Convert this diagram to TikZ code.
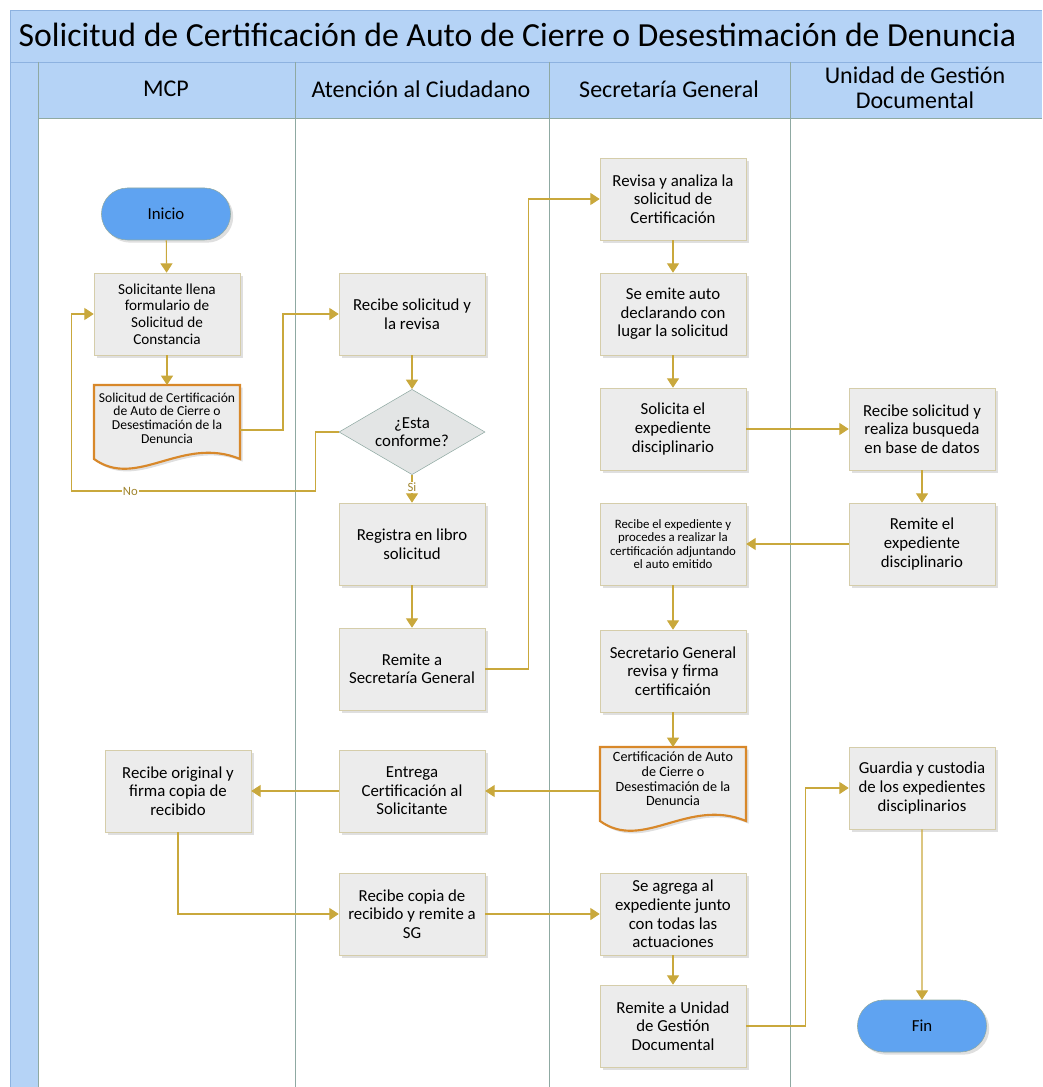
\documentclass[tikz,border=0pt]{standalone}
\usepackage{fontspec}
\setmainfont{Carlito}
\usetikzlibrary{positioning,calc,arrows.meta,shapes.geometric,shapes.misc,shadows}
\definecolor{laneblue}{HTML}{B5D3F6}
\definecolor{laneedge}{HTML}{8DB2E0}
\definecolor{divider}{HTML}{8FA9A2}
\definecolor{boxfill}{HTML}{ECECEC}
\definecolor{boxedge}{HTML}{D5CDAA}
\definecolor{flowc}{HTML}{C9A83C}
\definecolor{termfill}{HTML}{5FA3F1}
\definecolor{docedge}{HTML}{D8882A}
\tikzset{>={Triangle[width=9pt,length=7pt]},
  txt/.style={font=\fontsize{12.6}{13.9}\selectfont},
  small/.style={font=\fontsize{9.6}{10.2}\selectfont},
  proc/.style={txt,draw=boxedge,fill=boxfill,minimum width=109.5pt,minimum height=61.5pt,
    align=center,inner sep=2pt,
    drop shadow={opacity=.25,shadow xshift=2pt,shadow yshift=-2pt}},
  term/.style={txt,rounded rectangle,draw=divider,fill=termfill,minimum width=103.5pt,
    minimum height=39pt,drop shadow={opacity=.25,shadow xshift=2pt,shadow yshift=-2pt}},
  decision/.style={txt,diamond,aspect=1.7,draw=divider,fill=boxfill!90!divider,
    minimum width=109.5pt,minimum height=64pt,align=center,inner sep=0pt},
  docnode/.style={small,align=center,inner sep=1pt},
  docline/.style={draw=docedge,line width=1.6pt,fill=boxfill,
    drop shadow={opacity=.25,shadow xshift=2pt,shadow yshift=-2pt}},
  flow/.style={draw=flowc,line width=.8pt},
  lbl/.style={fill=white,text=flowc!80!black,inner sep=1pt,font=\fontsize{9.5}{10}\selectfont},
  lane/.style={font=\fontsize{18}{18.75}\selectfont,align=center}}
\newcommand\docshape[1]{%
  \draw[docline] ([shift={(-73,37)}]#1) -- ([shift={(-73,-37)}]#1) -- ([shift={(73,-37)}]#1)
    -- ([shift={(73,37)}]#1) .. controls ([shift={(15,13)}]#1) and ([shift={(-30,68)}]#1)
    .. ([shift={(-73,37)}]#1) -- cycle;}

\begin{document}
\begin{tikzpicture}[x=0.75pt,y=-0.75pt]
\useasboundingbox (0,0) rectangle (1042,1087);
\fill[laneblue] (10,10) rectangle (1042,118);
\fill[laneblue] (10,118) rectangle (38,1087);
\draw[laneedge] (10,1087) -- (10,10) -- (1042,10);
\draw[laneedge] (10,62) -- (1042,62);
\draw[divider] (38,118) -- (1042,118);
\foreach \x in {38,295,549,790}
  \draw[divider] (\x,62) -- (\x,1087);
\node[anchor=west,font=\fontsize{25.3}{28}\selectfont] (ttl) at (14,35)
  {Solicitud de Certificación de Auto de Cierre o Desestimación de Denuncia};
\node[lane] (hmcp) at (166,89) {MCP};
\node[lane] (hatc) at (421,89) {Atención al Ciudadano};
\node[lane] (hsg) at (669,89) {Secretaría General};
\node[lane] (hugd) at (915,88) {Unidad de Gestión\\Documental};

\coordinate (docac) at (167,422);
\coordinate (docbc) at (673,784);
\coordinate (docbw) at ([shift={(-73,0)}]docbc);
\docshape{docac}
\docshape{docbc}

\node[term] (ini) at (166,214) {Inicio};
\node[proc,font=\fontsize{11.4}{12.4}\selectfont] (sol) at (167,314)
  {Solicitante llena\\formulario de\\Solicitud de\\Constancia};
\node[docnode,font=\fontsize{10.2}{10.2}\selectfont] (doca) at (167,418) {Solicitud de Certificación\\de Auto de Cierre o\\Desestimación de la\\Denuncia};
\node[proc] (rsol) at (412,314) {Recibe solicitud y\\la revisa};
\node[decision] (conf) at (412,432) {¿Esta\\conforme?};
\node[proc] (reg) at (412,544) {Registra en libro\\solicitud};
\node[proc] (rsg) at (412,669) {Remite a\\Secretaría General};
\node[proc] (rev) at (673,199) {Revisa y analiza la\\solicitud de\\Certificación};
\node[proc] (emi) at (673,314) {Se emite auto\\declarando con\\lugar la solicitud};
\node[proc] (sexp) at (673,429) {Solicita el\\expediente\\disciplinario};
\node[proc,small] (rexp) at (673,544) {Recibe el expediente y\\procedes a realizar la\\certificación adjuntando\\el auto emitido};
\node[proc] (srev) at (673,671) {Secretario General\\revisa y firma\\certificaión};
\node[docnode,font=\fontsize{10.6}{11}\selectfont] (docb) at (673,779) {Certificación de Auto\\de Cierre o\\Desestimación de la\\Denuncia};
\node[proc] (agr) at (673,914) {Se agrega al\\expediente junto\\con todas las\\actuaciones};
\node[proc] (rugd) at (673,1026) {Remite a Unidad\\de Gestión\\Documental};
\node[proc] (rbus) at (922,429) {Recibe solicitud y\\realiza busqueda\\en base de datos};
\node[proc] (rem) at (922,544) {Remite el\\expediente\\disciplinario};
\node[proc] (guar) at (922,788) {Guardia y custodia\\de los expedientes\\disciplinarios};
\node[term] (fin) at (922,1026) {Fin};
\node[proc] (rorig) at (178,791) {Recibe original y\\firma copia de\\recibido};
\node[proc] (ent) at (412,791) {Entrega\\Certificación al\\Solicitante};
\node[proc] (rcop) at (412,914) {Recibe copia de\\recibido y remite a\\SG};

\draw[flow,->] (ini) -- (sol);
\draw[flow,->] (sol) -- ([shift={(0,-37)}]docac);
\draw[flow,->] ([shift={(73,8)}]docac) -- ++(43,0) |- (rsol.west);
\draw[flow,->] (rsol) -- (conf);
\draw[flow,->] (conf.west) -- ++(-23,0) -- ++(0,59) -| node[lbl,pos=.38] {No}
  ($(sol.west)+(-22,0)$) -- (sol.west);
\draw[flow,->] (conf) -- node[lbl,pos=.45] {Si} (reg);
\draw[flow,->] (reg) -- (rsg);
\draw[flow,->] (rsg.east) -- ++(43,0) |- (rev.west);
\draw[flow,->] (rev) -- (emi);
\draw[flow,->] (emi) -- (sexp);
\draw[flow,->] (sexp) -- (rbus);
\draw[flow,->] (rbus) -- (rem);
\draw[flow,->] (rem) -- (rexp);
\draw[flow,->] (rexp) -- (srev);
\draw[flow,->] (srev) -- ([shift={(0,-37)}]docbc);
\draw[flow,->] (docbw |- ent.east) -- (ent.east);
\draw[flow,->] (ent) -- (rorig);
\draw[flow,->] (rorig.south) |- (rcop.west);
\draw[flow,->] (rcop) -- (agr);
\draw[flow,->] (agr) -- (rugd);
\draw[flow,->] (rugd.east) -- ++(59,0) |- (guar.west);
\draw[flow,->] (guar) -- (fin);
\end{tikzpicture}
\end{document}
